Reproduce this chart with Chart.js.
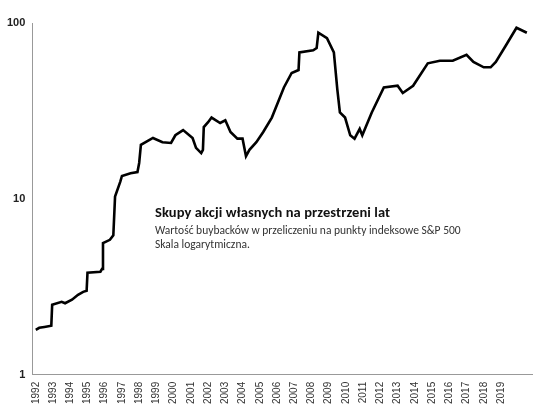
<!DOCTYPE html>
<html lang="pl">
<head>
<meta charset="UTF-8">
<title>Skupy akcji własnych</title>
<script src="https://cdn.jsdelivr.net/npm/chart.js"></script>
<style>
  body { margin: 0; background: #fff; font-family: Calibri, Carlito, "Open Sans", sans-serif; }
  #wrap { position: relative; width: 536px; height: 407px; }
  .t1 { position: absolute; left: 155px; top: 203px; font-size: 14.5px; font-weight: bold; color: #111; letter-spacing: 0.1px; }
  .t2 { position: absolute; left: 155px; top: 223px; font-size: 11.5px; color: #333; line-height: 14px; }
</style>
</head>
<body>
<div id="wrap">
  <canvas id="c" width="536" height="407"></canvas>
  <div class="t1">Skupy akcji własnych na przestrzeni lat</div>
  <div class="t2">Wartość buybacków w przeliczeniu na punkty indeksowe S&amp;P 500<br>Skala logarytmiczna.</div>
</div>
<script>
const years = [1992,1992.2,1992.5,1992.9,1992.95,1993.5,1993.7,1994.1,1994.45,1994.75,1994.95,1995.0,1995.75,1995.85,1995.9,1996.3,1996.5,1996.6,1996.9,1997.0,1997.5,1997.9,
  1998.0,1998.1,1998.8,1999.35,1999.85,2000.1,2000.55,2001.1,2001.3,2001.6,2001.7,2001.75,2002.0,2002.2,2002.7,2003.0,2003.3,2003.7,2004.0,
  2004.2,2004.4,2004.8,2005.2,2005.7,2006.4,2006.85,2007.25,2007.3,2008.1,2008.3,2008.4,2008.9,2009.3,2009.5,2009.65,2009.95,2010.25,
  2010.5,2010.8,2010.95,2011.5,2012.2,2013.0,2013.3,2013.9,2014.75,2015.45,2016.2,2017.0,2017.4,2018.0,2018.4,2018.7,2019.3,
  2019.9,2020.5];
const buybacks = [1.8,1.85,1.87,1.9,2.5,2.6,2.55,2.67,2.85,2.96,3.0,3.8,3.85,4.0,5.6,5.85,6.2,10.3,12.5,13.5,14,14.2,
  16,20.3,22.2,21,20.8,23,24.6,22.2,19.5,18.2,19,25.6,27.3,29,27,28,24,22,22,
  17.5,19,21,24,29,43,52,54,68,70,72,88,82,68,42,31,29,23,
  22,25,23,31,43,44,40,44,59,61,61,66,60,56,56,60,75,
  94,88];
const yTicks = [1, 10, 100];

new Chart(document.getElementById('c'), {
  type: 'line',
  data: { datasets: [{
    data: years.map((x, i) => ({ x: x, y: buybacks[i] })),
    borderColor: '#000', borderWidth: 2.6, pointRadius: 0, tension: 0
  }]},
  options: {
    responsive: false, animation: false,
    layout: { padding: { top: 23, right: 4, left: 4 } },
    plugins: { legend: { display: false }, tooltip: { enabled: false } },
    scales: {
      x: { type: 'linear', min: 1991.8, max: 2020.8,
        grid: { display: false, tickLength: 4 },
        border: { color: '#999' },
        afterBuildTicks: a => { a.ticks = []; for (let y = 1992; y <= 2019; y++) a.ticks.push({ value: y }); },
        ticks: { autoSkip: false, maxRotation: 90, minRotation: 90, color: '#333', font: { size: 10 }, callback: v => String(v) } },
      y: { type: 'logarithmic', min: 1, max: 100,
        grid: { display: false, tickLength: 4 },
        border: { color: '#999' },
        afterBuildTicks: a => { a.ticks = yTicks.map(v => ({ value: v })); },
        ticks: { color: '#222', font: { size: 11, weight: 'bold' }, callback: v => String(v) } }
    }
  }
});
</script>
</body>
</html>
